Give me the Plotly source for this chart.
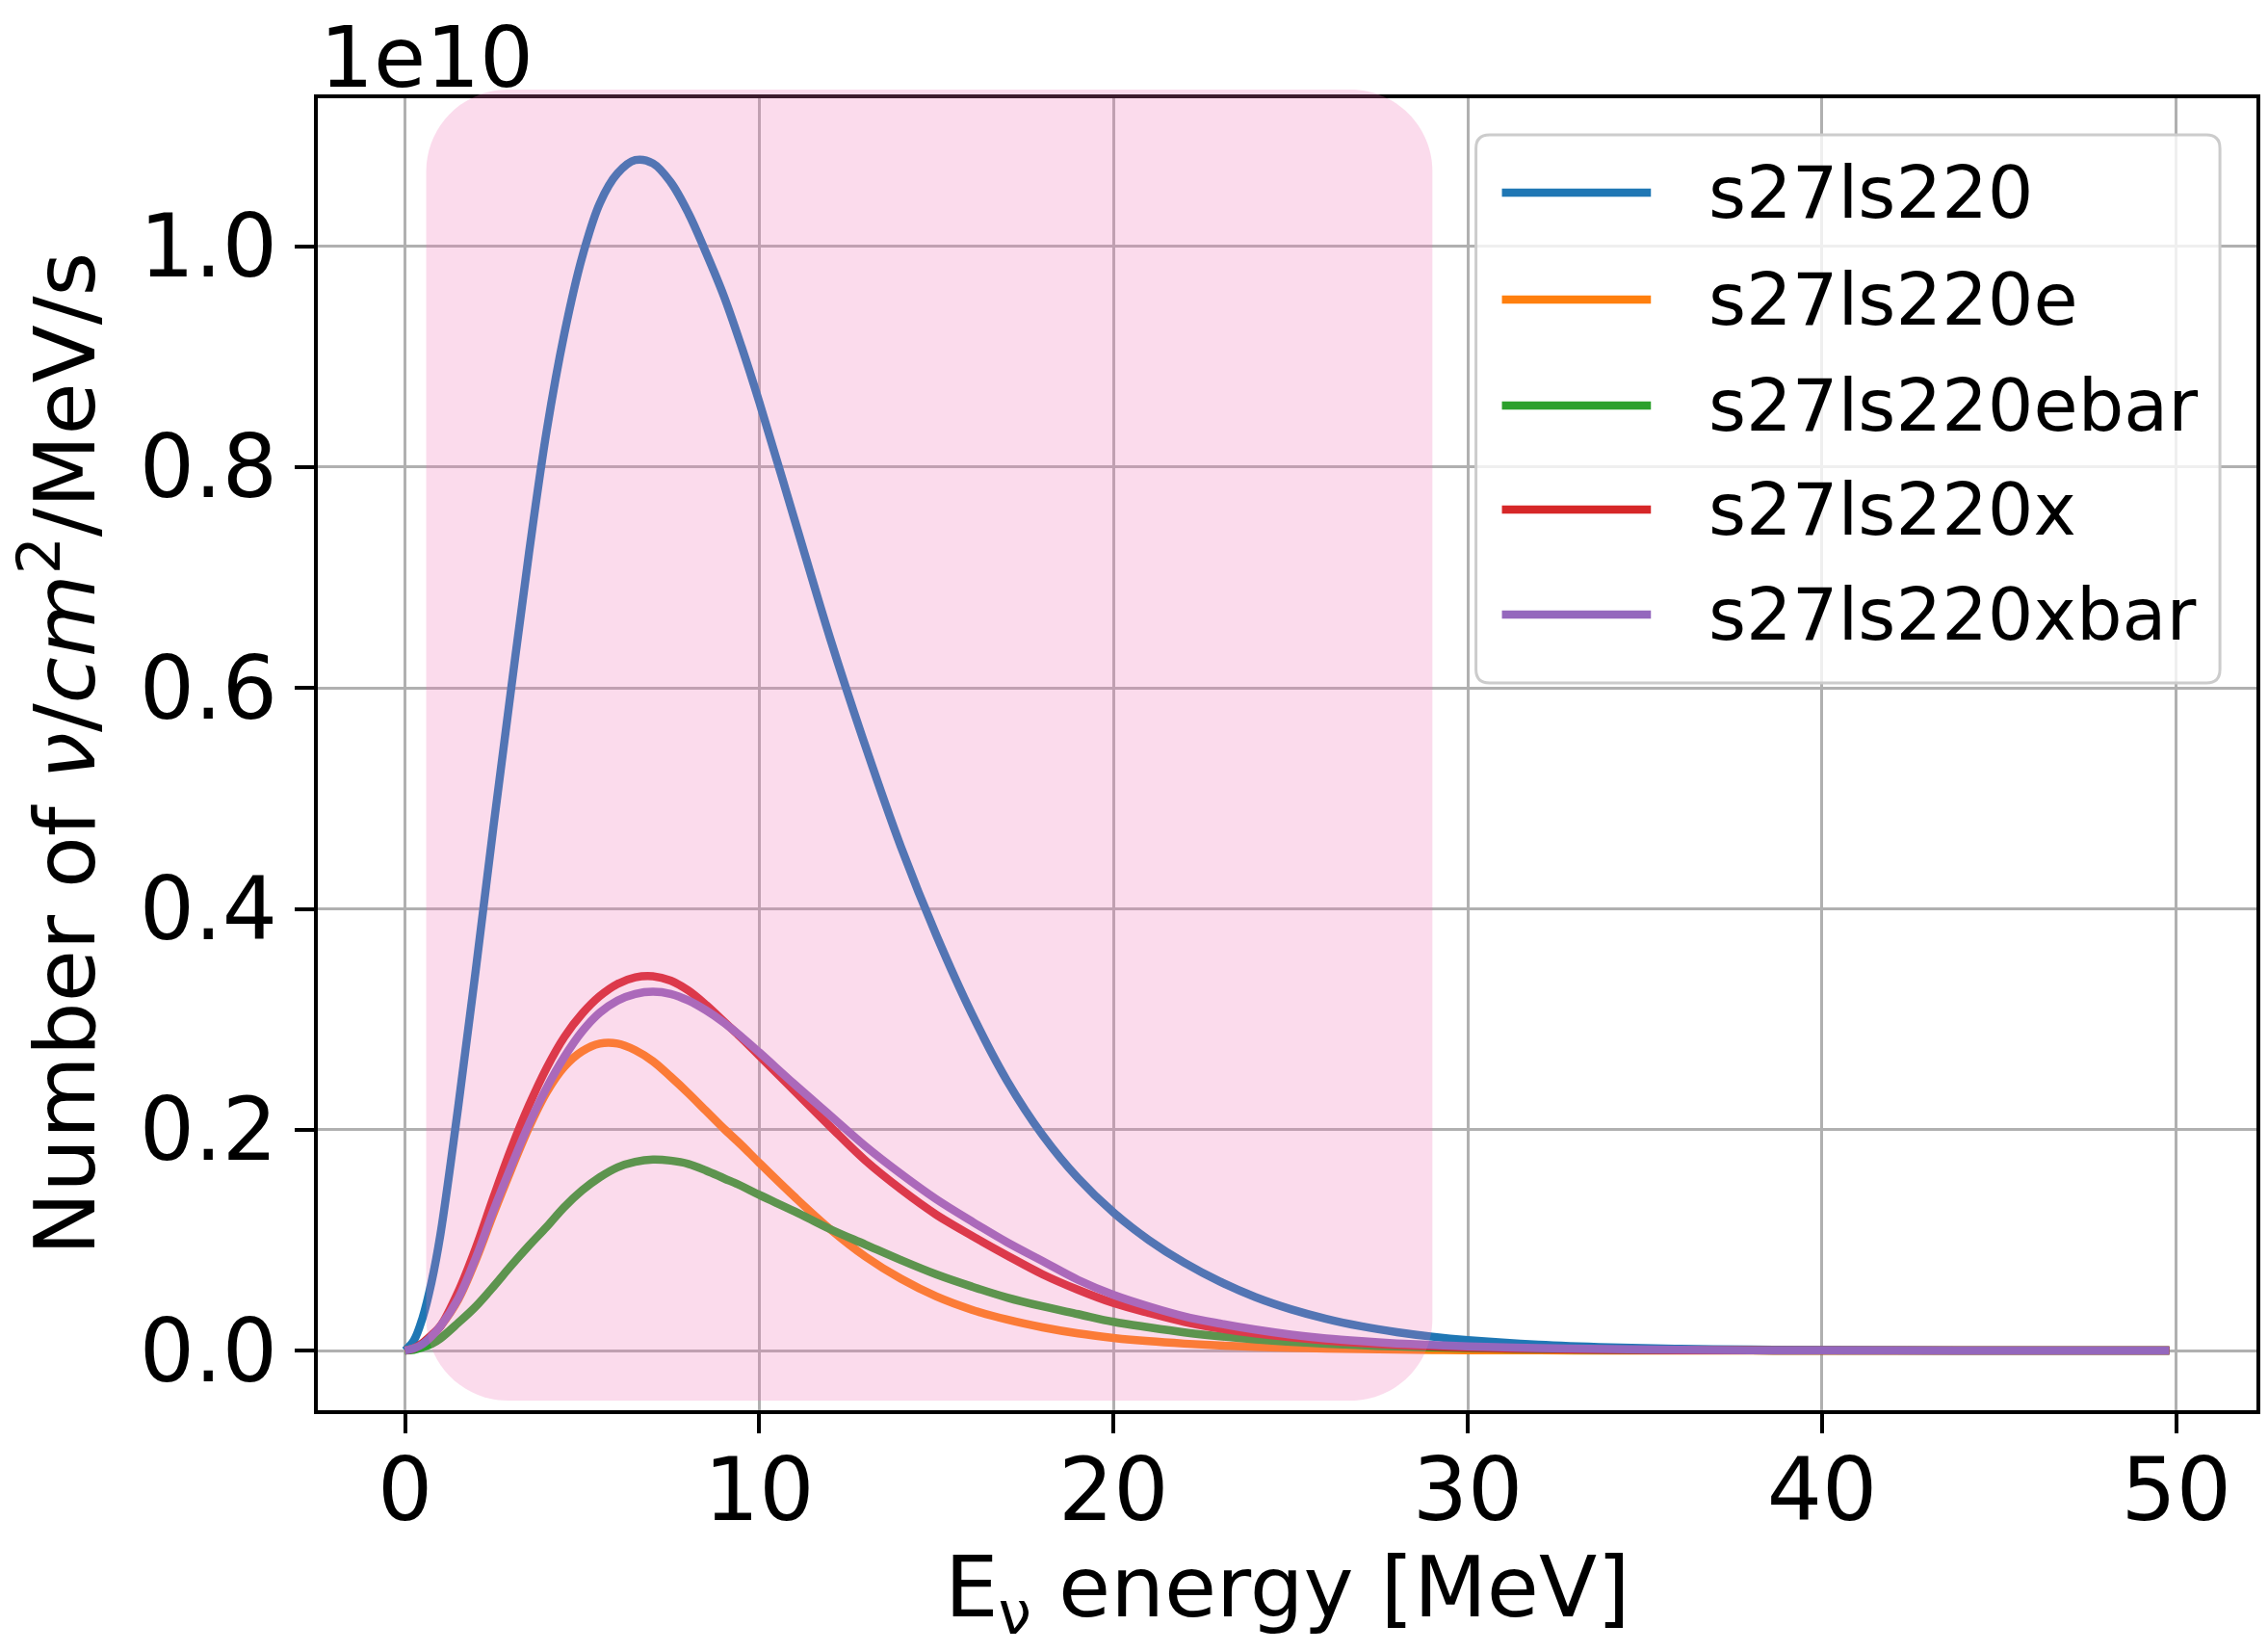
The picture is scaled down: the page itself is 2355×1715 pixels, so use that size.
import plotly.graph_objects as go

# ---------------- data (values in units of 1e10 nu/cm^2/MeV/s) ----------------
energy = [0, 0.25, 0.5, 0.75, 1, 1.5, 2, 2.5, 3, 3.5,
          4, 4.5, 5, 5.5, 6, 6.5, 7, 7.5, 8, 8.5,
          9, 9.5, 10, 11, 12, 13, 14, 15, 16, 17,
          18, 19, 20, 21, 22, 23, 24, 25, 26, 27,
          28, 29, 30, 32, 34, 36, 38, 40, 44, 49.8]

s27ls220 = [0, 0.009, 0.030, 0.062, 0.105, 0.220, 0.345, 0.475, 0.600, 0.722,
            0.833, 0.921, 0.990, 1.039, 1.066, 1.078, 1.075, 1.058, 1.030, 0.994,
            0.955, 0.909, 0.859, 0.752, 0.645, 0.547, 0.456, 0.376, 0.305, 0.244,
            0.195, 0.156, 0.125, 0.100, 0.0795, 0.0625, 0.0485, 0.0375, 0.0288, 0.022,
            0.0167, 0.0126, 0.0095, 0.0053, 0.0029, 0.0016, 0.0009, 0.0005, 0.00015, 0.00003]

s27ls220e = [0, 0.002, 0.006, 0.013, 0.022, 0.046, 0.082, 0.124, 0.164, 0.202,
             0.234, 0.257, 0.271, 0.278, 0.278, 0.272, 0.262, 0.248, 0.233, 0.217,
             0.201, 0.186, 0.170, 0.139, 0.110, 0.085, 0.065, 0.049, 0.037, 0.028,
             0.021, 0.0155, 0.0115, 0.0085, 0.0063, 0.0046, 0.0034, 0.0025, 0.0018, 0.0013,
             0.0009, 0.0006, 0.0004, 0.0002, 0.0001, 0.0, 0.0, 0.0, 0.0, 0.0]

s27ls220ebar = [0, 0.0007, 0.003, 0.006, 0.011, 0.025, 0.040, 0.058, 0.077, 0.095,
                0.112, 0.130, 0.145, 0.157, 0.166, 0.171, 0.173, 0.172, 0.169, 0.163,
                0.156, 0.149, 0.141, 0.126, 0.110, 0.096, 0.082, 0.069, 0.058, 0.048,
                0.040, 0.033, 0.026, 0.021, 0.0165, 0.013, 0.0102, 0.008, 0.0062, 0.0048,
                0.0037, 0.0029, 0.0022, 0.0013, 0.0008, 0.0004, 0.0002, 0.00012, 0.00004, 0.0]

s27ls220x = [0, 0.002, 0.007, 0.014, 0.022, 0.053, 0.093, 0.139, 0.183, 0.222,
             0.256, 0.284, 0.305, 0.321, 0.332, 0.338, 0.339, 0.335, 0.326, 0.313,
             0.298, 0.283, 0.267, 0.235, 0.203, 0.172, 0.146, 0.123, 0.104, 0.086,
             0.069, 0.055, 0.043, 0.034, 0.026, 0.020, 0.0155, 0.012, 0.009, 0.0068,
             0.0051, 0.0038, 0.0028, 0.0015, 0.0008, 0.0004, 0.0002, 0.0001, 0.00003, 0.0]

s27ls220xbar = [0, 0.002, 0.006, 0.013, 0.022, 0.047, 0.084, 0.127, 0.167, 0.205,
                0.238, 0.266, 0.289, 0.306, 0.317, 0.323, 0.325, 0.323, 0.317, 0.308,
                0.297, 0.284, 0.270, 0.241, 0.213, 0.185, 0.160, 0.137, 0.117, 0.098,
                0.081, 0.064, 0.0505, 0.040, 0.031, 0.0245, 0.019, 0.0145, 0.011, 0.0085,
                0.0065, 0.005, 0.0038, 0.0022, 0.0013, 0.0007, 0.0004, 0.0002, 0.00006, 0.0]

series_names = ["s27ls220", "s27ls220e", "s27ls220ebar", "s27ls220x", "s27ls220xbar"]
series_values = [s27ls220, s27ls220e, s27ls220ebar, s27ls220x, s27ls220xbar]
series_colors = ["#1f77b4", "#ff7f0e", "#2ca02c", "#d62728", "#9467bd"]

scale = 1e10
y_ticks = [0.0, 0.2, 0.4, 0.6, 0.8, 1.0]
x_ticks = [0, 10, 20, 30, 40, 50]
highlight = [0.6, 29.0]   # highlighted energy window (MeV)

x_range = [-2.46, 52.26]
y_range = [-0.054, 1.134]

FONT = "DejaVu Sans"
W, H = 2355, 1715
ML, MR, MT, MB = 330, 8, 102, 251
PW, PH = W - ML - MR, H - MT - MB

fig = go.Figure()
for name, vals, col in zip(series_names, series_values, series_colors):
    fig.add_trace(go.Scatter(
        x=energy, y=[v * scale for v in vals], mode="lines", name=name,
        line=dict(color=col, width=8.5, shape="spline", smoothing=1.0),
        showlegend=False))

def px2py(py):
    return (H - MB - py) / PH

def px2px(px):
    return (px - ML) / PW

# --- highlight rounded rectangle (x in data, y in paper) ---
x0, x1 = highlight
y0p, y1p = px2py(1454), px2py(93)
rx = 85 / (PW / (x_range[1] - x_range[0]))
ry = 85 / PH
k = 0.5523
path = (f"M{x0+rx},{y0p} L{x1-rx},{y0p} "
        f"C{x1-rx+k*rx},{y0p} {x1},{y0p+ry-k*ry} {x1},{y0p+ry} "
        f"L{x1},{y1p-ry} "
        f"C{x1},{y1p-ry+k*ry} {x1-rx+k*rx},{y1p} {x1-rx},{y1p} "
        f"L{x0+rx},{y1p} "
        f"C{x0+rx-k*rx},{y1p} {x0},{y1p-ry+k*ry} {x0},{y1p-ry} "
        f"L{x0},{y0p+ry} "
        f"C{x0},{y0p+ry-k*ry} {x0+rx-k*rx},{y0p} {x0+rx},{y0p} Z")
fig.add_shape(type="path", path=path, xref="x", yref="paper",
              fillcolor="rgba(240,110,180,0.25)", line=dict(width=0), layer="above")

# --- custom legend ---
lx0, lx1 = px2px(1535), px2px(2309)
ly1, ly0 = px2py(140), px2py(709)
r_x, r_y = 14 / PW, 14 / PH
lpath = (f"M{lx0+r_x},{ly0} L{lx1-r_x},{ly0} Q{lx1},{ly0} {lx1},{ly0+r_y} "
         f"L{lx1},{ly1-r_y} Q{lx1},{ly1} {lx1-r_x},{ly1} "
         f"L{lx0+r_x},{ly1} Q{lx0},{ly1} {lx0},{ly1-r_y} "
         f"L{lx0},{ly0+r_y} Q{lx0},{ly0} {lx0+r_x},{ly0} Z")
fig.add_shape(type="path", path=lpath, xref="paper", yref="paper",
              fillcolor="rgba(255,255,255,0.8)", line=dict(color="#cccccc", width=3),
              layer="above")
row_py = [200, 311, 421, 529, 638]
for name, col, py in zip(series_names, series_colors, row_py):
    yy = px2py(py)
    fig.add_shape(type="line", xref="paper", yref="paper",
                  x0=px2px(1562), x1=px2px(1717), y0=yy, y1=yy,
                  line=dict(color=col, width=8.5), layer="above")
    fig.add_annotation(x=px2px(1775), y=yy, xref="paper", yref="paper",
                       text=name, showarrow=False, xanchor="left", yanchor="middle",
                       font=dict(family=FONT, size=75, color="black"))

# --- offset text and axis titles ---
fig.add_annotation(x=0, y=px2py(60), xref="paper", yref="paper", text="1e10",
                   showarrow=False, xanchor="left", yanchor="middle",
                   font=dict(family=FONT, size=88, color="black"))
fig.add_annotation(x=0.5, y=px2py(1653), xref="paper", yref="paper",
                   text="E<sub>ν</sub> energy [MeV]", showarrow=False,
                   xanchor="center", yanchor="middle",
                   font=dict(family=FONT, size=88, color="black"))
fig.add_annotation(x=px2px(61), y=0.5, xref="paper", yref="paper",
                   text="Number of <i>ν</i>/<i>cm</i><sup>2</sup>/MeV/s", showarrow=False,
                   textangle=-90, xanchor="center", yanchor="middle",
                   font=dict(family=FONT, size=88, color="black"))

axis_common = dict(showgrid=True, gridcolor="#b0b0b0", gridwidth=3,
                   showline=True, linecolor="black", linewidth=4, mirror=True,
                   ticks="outside", ticklen=20, tickwidth=4, tickcolor="black",
                   zeroline=False, tickfont=dict(family=FONT, size=90, color="black"))

fig.update_xaxes(range=x_range, tickvals=x_ticks, ticktext=[str(t) for t in x_ticks],
                 ticklabelstandoff=-18, **axis_common)
fig.update_yaxes(range=[y_range[0] * scale, y_range[1] * scale],
                 tickvals=[t * scale for t in y_ticks],
                 ticktext=[f"{t:.1f}" for t in y_ticks], **axis_common)

fig.update_layout(width=W, height=H, margin=dict(l=ML, r=MR, t=MT, b=MB),
                  paper_bgcolor="white", plot_bgcolor="white",
                  font=dict(family=FONT, color="black"))

fig.write_html("out.html")
